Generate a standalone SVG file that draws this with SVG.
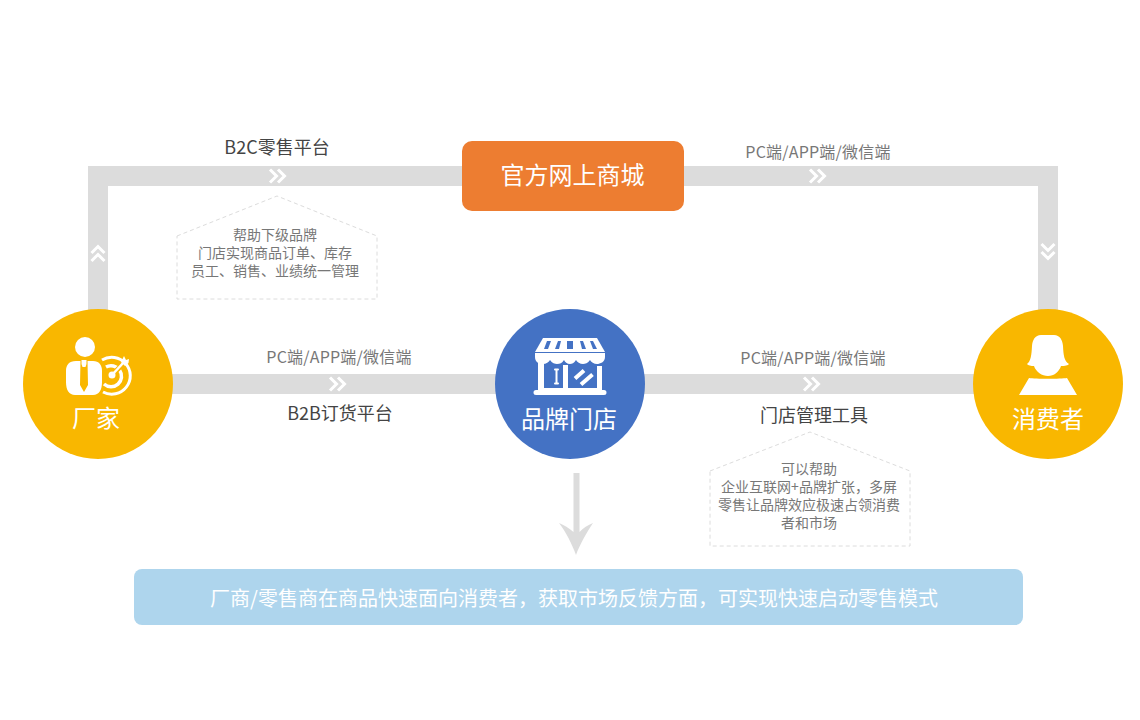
<svg xmlns="http://www.w3.org/2000/svg" width="1140" height="720" viewBox="0 0 1140 720">
<style>
text{font-family:"Noto Sans CJK SC","Liberation Sans",sans-serif;text-anchor:middle}
.band{fill:#dcdcdc}
.chev{fill:none;stroke:#fff;stroke-width:3}
.house{fill:none;stroke:#dcdcdc;stroke-width:1;stroke-dasharray:4 3}
.w24{font-size:24px;fill:#fff}
.d18{font-size:18px;fill:#444}
.g16{font-size:16px;fill:#777;letter-spacing:.2px}
.g14{font-size:14px;fill:#777}
.ico{fill:#fff}
</style>
<defs>
<g id="chevR"><path class="chev" d="M-8 -6.500L-1.500 0L-8 6.500M0 -6.500L6.500 0L0 6.500"/></g>
</defs>
<rect width="1140" height="720" fill="#fff"/>
<g id="connectors">
<path class="band" d="M88 330V166H1058V330H1038V186H108V330Z"/>
<rect class="band" x="150" y="374" width="850" height="20"/>
<use href="#chevR" x="278" y="176"/>
<use href="#chevR" x="818" y="176"/>
<use href="#chevR" x="338" y="384"/>
<use href="#chevR" x="812" y="384"/>
<use href="#chevR" transform="translate(98 253) rotate(-90)"/>
<use href="#chevR" transform="translate(1048 252) rotate(90)"/>
<path fill="#dcdcdc" d="M573.500 473H579.500V532C583 528 588 525 593 523C587 532 580 544 576 555C572 544 566 532 559 523C564 525 569 528 573.500 532Z"/>
</g>
<g id="label-b2c"><text class="d18" x="277" y="154">B2C零售平台</text></g>
<g id="label-pc1"><text class="g16" x="818" y="158">PC端/APP端/微信端</text></g>
<g id="label-pc2"><text class="g16" x="339" y="363">PC端/APP端/微信端</text></g>
<g id="label-pc3"><text class="g16" x="813" y="364">PC端/APP端/微信端</text></g>
<g id="label-b2b"><text class="d18" x="340" y="420">B2B订货平台</text></g>
<g id="label-tool"><text class="d18" x="814" y="422">门店管理工具</text></g>
<g id="node-mall">
<rect x="462" y="141" width="222" height="70" rx="10" fill="#ed7d31"/>
<text class="w24" x="572.500" y="184">官方网上商城</text>
</g>
<g id="node-factory">
<circle cx="98" cy="384" r="75" fill="#f9b700"/>
<g fill="none" stroke="#fff" stroke-linecap="butt">
<path stroke-width="3" d="M102 360A18.500 18.500 0 1 1 103 392"/>
<path stroke-width="3.500" d="M106 367A10.500 10.500 0 1 1 104 384"/>
</g>
<path d="M112 375L127 360" stroke="#f9b700" stroke-width="5"/>
<circle class="ico" cx="112" cy="375" r="3.500"/>
<path d="M112 375L124 362" stroke="#fff" stroke-width="2.500"/>
<path class="ico" d="M121 362L124 356L126 360L129 359L128.500 363L125 366Z"/>
<circle class="ico" cx="85" cy="347" r="10"/>
<path class="ico" d="M76 361H80.500L80 385L84 392L88 385L87.500 361H93C99 361 102 365 102 371V382C102 390 99 395 93 395H75C69 395 66 390 66 382V371C66 365 69 361 76 361Z"/>
<path class="ico" d="M81.500 360H86.500V364L85.500 367H82.500L81.500 364Z"/>
<text class="w24" x="96" y="427">厂家</text>
</g>
<g id="node-store">
<circle cx="570" cy="384" r="75" fill="#4472c4"/>
<path class="ico" d="M543 338H597L605 352H535Z"/>
<g fill="#4472c4">
<path d="M547 341H551L548 349H544Z"/>
<path d="M558 341H561L559 349H555Z"/>
<path d="M567 341H573V349H567Z"/>
<path d="M580 341H583L586 349H582Z"/>
<path d="M590 341H593L597 349H593Z"/>
</g>
<path class="ico" d="M535 353H605V357C605 362 600 364 597 364C594 364 591 362 590 360C588 363 585 364 583 364C580 364 577 362 576 360C574 363 572 364 570 364C567 364 565 362 564 360C562 363 560 364 557 364C555 364 552 363 550 360C549 362 546 364 543 364C539 364 535 362 535 357Z"/>
<path class="ico" d="M538 362H544V388H563V365H568V388H597V366H602V390H604A2.500 2.500 0 0 1 604 395H536A2.500 2.500 0 0 1 536 390H538Z"/>
<path d="M556.500 370V383" stroke="#fff" stroke-width="2"/>
<path d="M555 369.500H558M555 383.500H558" stroke="#fff" stroke-width="2" stroke-linecap="round"/>
<path d="M575 378.500L584 370.500M581 384.500L592.500 374.500" stroke="#fff" stroke-width="4"/>
<text class="w24" x="569" y="428">品牌门店</text>
</g>
<g id="node-consumer">
<circle cx="1048" cy="384" r="75" fill="#f9b700"/>
<path class="ico" d="M1041 335H1054C1060 335 1062.500 340 1063 346C1063.500 355 1064 361 1069 364C1068 365.500 1065 366 1061 366C1059 372 1054 376 1048 376C1042 376 1036 372 1034 366C1031 366 1028 365.500 1027 364C1031 361 1031.500 355 1032 346C1032.500 340 1035 335 1041 335Z"/>
<path class="ico" d="M1029 378C1035 379 1061 379 1067 378L1077 395H1019Z"/>
<text class="w24" x="1048" y="428">消费者</text>
</g>
<g id="note-left">
<path class="house" d="M177 236L277 196L377 236V299H177Z"/>
<text class="g14" x="275" y="240">帮助下级品牌</text>
<text class="g14" x="275" y="258">门店实现商品订单、库存</text>
<text class="g14" x="275" y="276">员工、销售、业绩统一管理</text>
</g>
<g id="note-right">
<path class="house" d="M710 471L810 432L910 471V546H710Z"/>
<text class="g14" x="809" y="474">可以帮助</text>
<text class="g14" x="809" y="492">企业互联网+品牌扩张，多屏</text>
<text class="g14" x="809" y="510">零售让品牌效应极速占领消费</text>
<text class="g14" x="809" y="528">者和市场</text>
</g>
<g id="banner">
<rect x="134" y="569" width="889" height="56" rx="8" fill="#aed5ed"/>
<text x="574" y="606" font-size="20" fill="#fff">厂商/零售商在商品快速面向消费者，获取市场反馈方面，可实现快速启动零售模式</text>
</g>
</svg>
